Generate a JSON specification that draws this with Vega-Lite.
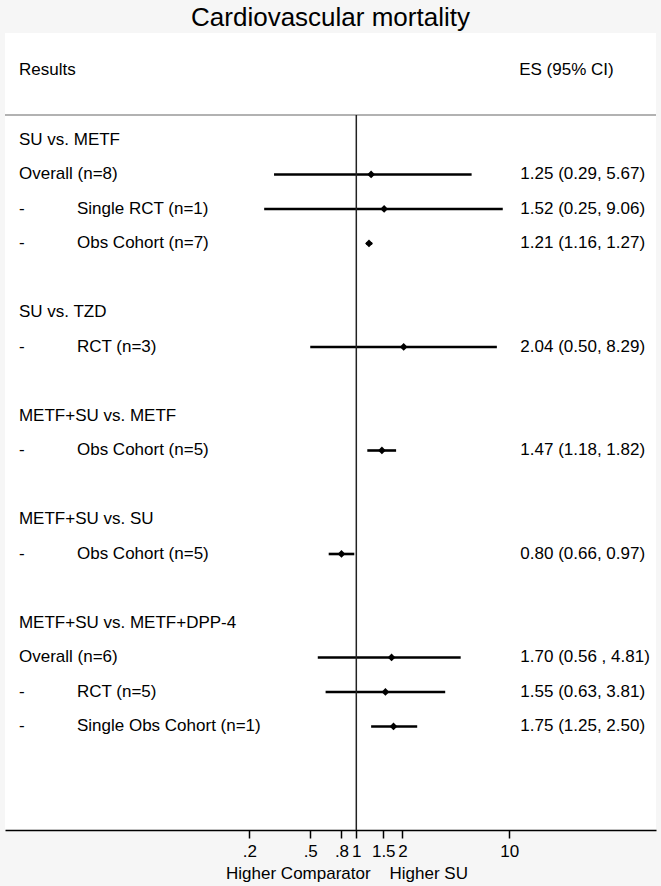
{
  "$schema": "https://vega.github.io/schema/vega-lite/v6.json",
  "width": 651,
  "height": 797,
  "autosize": {"type": "none"},
  "padding": {"left": 5, "top": 33, "right": 5, "bottom": 56},
  "background": "#f6f6f6",
  "config": {
    "view": {"fill": "white", "stroke": null},
    "font": "Liberation Sans",
    "text": {"font": "Liberation Sans", "fontSize": 17, "color": "black"}
  },
  "title": {
    "text": "Cardiovascular mortality",
    "fontSize": 26,
    "fontWeight": "normal",
    "font": "Liberation Sans",
    "color": "black",
    "anchor": "middle",
    "baseline": "alphabetic",
    "offset": 6,
    "dy": 25
  },
  "datasets": {
    "rows": [
      {"row": 0, "label": "SU vs. METF", "level": "head"},
      {"row": 1, "label": "Overall (n=8)", "level": "overall", "es": 1.25, "lo": 0.29, "hi": 5.67, "ci": "1.25 (0.29, 5.67)"},
      {"row": 2, "label": "Single RCT (n=1)", "level": "sub", "es": 1.52, "lo": 0.25, "hi": 9.06, "ci": "1.52 (0.25, 9.06)"},
      {"row": 3, "label": "Obs Cohort (n=7)", "level": "sub", "es": 1.21, "lo": 1.16, "hi": 1.27, "ci": "1.21 (1.16, 1.27)"},
      {"row": 5, "label": "SU vs. TZD", "level": "head"},
      {"row": 6, "label": "RCT (n=3)", "level": "sub", "es": 2.04, "lo": 0.50, "hi": 8.29, "ci": "2.04 (0.50, 8.29)"},
      {"row": 8, "label": "METF+SU vs. METF", "level": "head"},
      {"row": 9, "label": "Obs Cohort (n=5)", "level": "sub", "es": 1.47, "lo": 1.18, "hi": 1.82, "ci": "1.47 (1.18, 1.82)"},
      {"row": 11, "label": "METF+SU vs. SU", "level": "head"},
      {"row": 12, "label": "Obs Cohort (n=5)", "level": "sub", "es": 0.80, "lo": 0.66, "hi": 0.97, "ci": "0.80 (0.66, 0.97)"},
      {"row": 14, "label": "METF+SU vs. METF+DPP-4", "level": "head"},
      {"row": 15, "label": "Overall (n=6)", "level": "overall", "es": 1.70, "lo": 0.56, "hi": 4.81, "ci": "1.70 (0.56 , 4.81)"},
      {"row": 16, "label": "RCT (n=5)", "level": "sub", "es": 1.55, "lo": 0.63, "hi": 3.81, "ci": "1.55 (0.63, 3.81)"},
      {"row": 17, "label": "Single Obs Cohort (n=1)", "level": "sub", "es": 1.75, "lo": 1.25, "hi": 2.50, "ci": "1.75 (1.25, 2.50)"}
    ],
    "one": [{}]
  },
  "data": {"name": "rows"},
  "layer": [
    {
      "transform": [{"filter": "isValid(datum.es)"}],
      "mark": {"type": "rule", "color": "black", "strokeWidth": 2.6},
      "encoding": {
        "x": {
          "field": "lo",
          "type": "quantitative",
          "scale": {"type": "log", "domain": [0.00506, 90.9], "nice": false, "zero": false},
          "axis": {
            "values": [0.2, 0.5, 0.8, 1, 1.5, 2, 10],
            "labelExpr": "datum.value == 0.2 ? '.2' : datum.value == 0.5 ? '.5' : datum.value == 0.8 ? '.8' : datum.value == 1.5 ? '1.5' : format(datum.value, 'd')",
            "grid": false,
            "domainColor": "black",
            "domainWidth": 1.5,
            "tickColor": "black",
            "tickWidth": 1.5,
            "tickSize": 8,
            "labelFontSize": 17,
            "labelFont": "Liberation Sans",
            "labelColor": "black",
            "labelPadding": 5,
            "labelOverlap": false,
            "labelFlush": false,
            "labelBound": false,
            "title": "Higher Comparator\u00a0\u00a0\u00a0\u00a0Higher SU",
            "titleFont": "Liberation Sans",
            "titleFontSize": 17,
            "titleFontWeight": "normal",
            "titleColor": "black",
            "titleAlign": "center",
            "titleBaseline": "alphabetic",
            "titleX": 341.5,
            "titleY": 48
          }
        },
        "x2": {"field": "hi"},
        "y": {"field": "row", "type": "quantitative", "scale": {"domain": [-3.101, 20], "reverse": true, "nice": false, "zero": false}, "axis": null}
      }
    },
    {
      "data": {"name": "one"},
      "mark": {"type": "rule", "color": "#999999", "strokeWidth": 1.5},
      "encoding": {
        "x": {"datum": 0.00506, "type": "quantitative"},
        "x2": {"datum": 90.9},
        "y": {"datum": -0.725, "type": "quantitative"}
      }
    },
    {
      "data": {"name": "one"},
      "mark": {"type": "rule", "color": "#222222", "strokeWidth": 1.5},
      "encoding": {
        "x": {"datum": 1, "type": "quantitative"},
        "y": {"datum": -0.725, "type": "quantitative"},
        "y2": {"datum": 20}
      }
    },
    {
      "transform": [{"filter": "isValid(datum.es)"}],
      "mark": {"type": "point", "shape": "diamond", "filled": true, "color": "black", "size": 60, "opacity": 1},
      "encoding": {
        "x": {"field": "es", "type": "quantitative"},
        "y": {"field": "row", "type": "quantitative"}
      }
    },
    {
      "transform": [{"filter": "datum.level != 'sub'"}],
      "mark": {"type": "text", "align": "left", "baseline": "middle"},
      "encoding": {
        "x": {"datum": 0.006242, "type": "quantitative"},
        "y": {"field": "row", "type": "quantitative"},
        "text": {"field": "label"}
      }
    },
    {
      "transform": [{"filter": "datum.level == 'sub'"}],
      "mark": {"type": "text", "align": "left", "baseline": "middle", "text": "-"},
      "encoding": {
        "x": {"datum": 0.006242, "type": "quantitative"},
        "y": {"field": "row", "type": "quantitative"}
      }
    },
    {
      "transform": [{"filter": "datum.level == 'sub'"}],
      "mark": {"type": "text", "align": "left", "baseline": "middle"},
      "encoding": {
        "x": {"datum": 0.01494, "type": "quantitative"},
        "y": {"field": "row", "type": "quantitative"},
        "text": {"field": "label"}
      }
    },
    {
      "transform": [{"filter": "isValid(datum.ci)"}],
      "mark": {"type": "text", "align": "left", "baseline": "middle"},
      "encoding": {
        "x": {"datum": 11.8, "type": "quantitative"},
        "y": {"field": "row", "type": "quantitative"},
        "text": {"field": "ci"}
      }
    },
    {
      "data": {"name": "one"},
      "mark": {"type": "text", "align": "left", "baseline": "middle", "text": "Results"},
      "encoding": {
        "x": {"datum": 0.006242, "type": "quantitative"},
        "y": {"datum": -2.03, "type": "quantitative"}
      }
    },
    {
      "data": {"name": "one"},
      "mark": {"type": "text", "align": "left", "baseline": "middle", "text": "ES (95% CI)"},
      "encoding": {
        "x": {"datum": 11.6, "type": "quantitative"},
        "y": {"datum": -2.03, "type": "quantitative"}
      }
    }
  ]
}
